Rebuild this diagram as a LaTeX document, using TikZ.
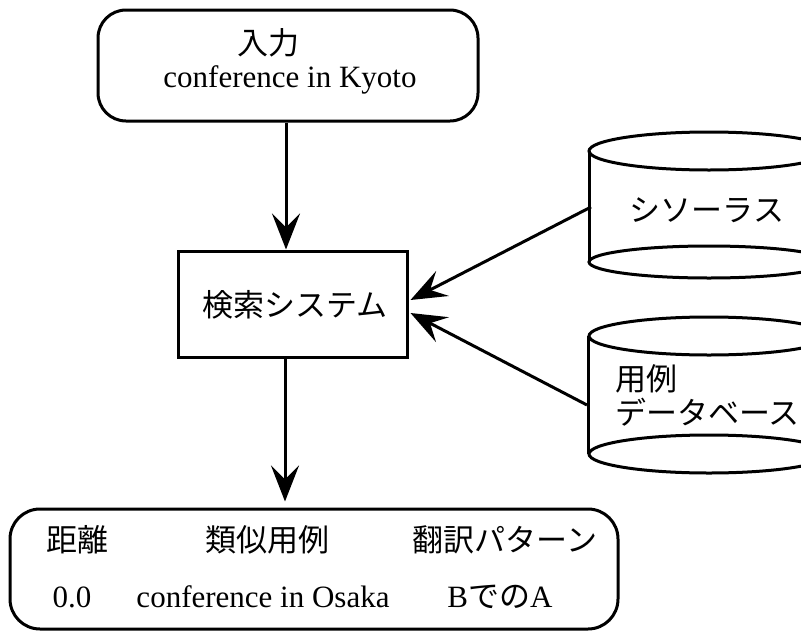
\documentclass[tikz,border=0pt]{standalone}
\usepackage{fontspec}
\setmainfont{Liberation Serif}
\newfontfamily\cjk{Noto Sans CJK JP}
\usetikzlibrary{arrows.meta,calc}
\begin{document}
\begin{tikzpicture}[x=1pt,y=-1pt,
  lw/.style={line width=3pt},
  boxr/.style={draw,lw,rounded corners=28pt,inner sep=0pt},
  boxs/.style={draw,lw,inner sep=0pt},
  lat/.style={font=\fontsize{31}{36}\selectfont,inner sep=0pt},
  jp/.style={font=\fontsize{31}{36}\selectfont\cjk,inner sep=0pt},
  arr/.style={lw,-{Stealth[length=36pt,width=28pt,inset=14pt]}}]
\useasboundingbox (0,0) rectangle (801,632);
\fill[white] (0,0) rectangle (801,632);

% boxes
\node[boxr,minimum width=380pt,minimum height=111pt] (top) at (288,65.5) {};
\node[boxs,minimum width=229pt,minimum height=106pt] (search) at (292.5,304) {};
\node[boxr,minimum width=608pt,minimum height=120pt,rounded corners=30pt] (res) at (314,569) {};

% texts
\node[jp] (in) at (268,43) {入力};
\node[lat] (kyoto) at (290,80) {conference in Kyoto};
\node[jp] (srch) at (295,305) {検索システム};
\node[jp] (h1) at (77,540) {距離};
\node[jp] (h2) at (267,540) {類似用例};
\node[jp] (h3) at (505,540) {翻訳パターン};
\node[lat] (v1) at (72,597) {0.0};
\node[lat] (v2) at (263,597) {conference in Osaka};
\node[lat] (v3) at (500,597) {B{\cjk での}A};

% cylinders
\begin{scope}
\clip (0,0) rectangle (801,632);
\draw[lw] (709,151) ellipse [x radius=120, y radius=19];
\draw[lw] (709,262) ellipse [x radius=120, y radius=16];
\draw[lw] (589,151) -- (589,262);
\draw[lw] (709,336) ellipse [x radius=120, y radius=19];
\draw[lw] (709,454) ellipse [x radius=120, y radius=19];
\draw[lw] (588,336) -- (588,454);
\end{scope}
\node[jp] (thes) at (707,210) {シソーラス};
\node[jp,anchor=west] (db1) at (615,379) {用例};
\node[jp,anchor=west] (db2) at (615,412) {データベース};

\coordinate (thesL) at (591,207);
\coordinate (dbL) at (587,405);
\coordinate (vline) at (286,0);
\coordinate (vline2) at (285,0);

% connectors
\draw[arr] (top.south -| vline) -- (search.north -| vline);
\draw[arr] (search.south -| vline2) -- ($(res.north -| vline2)+(0,-6)$);
\draw[arr] (thesL) -- ($(search.east)+(2,-4)$);
\draw[arr] (dbL) -- ($(search.east)+(2,9)$);
\end{tikzpicture}
\end{document}
